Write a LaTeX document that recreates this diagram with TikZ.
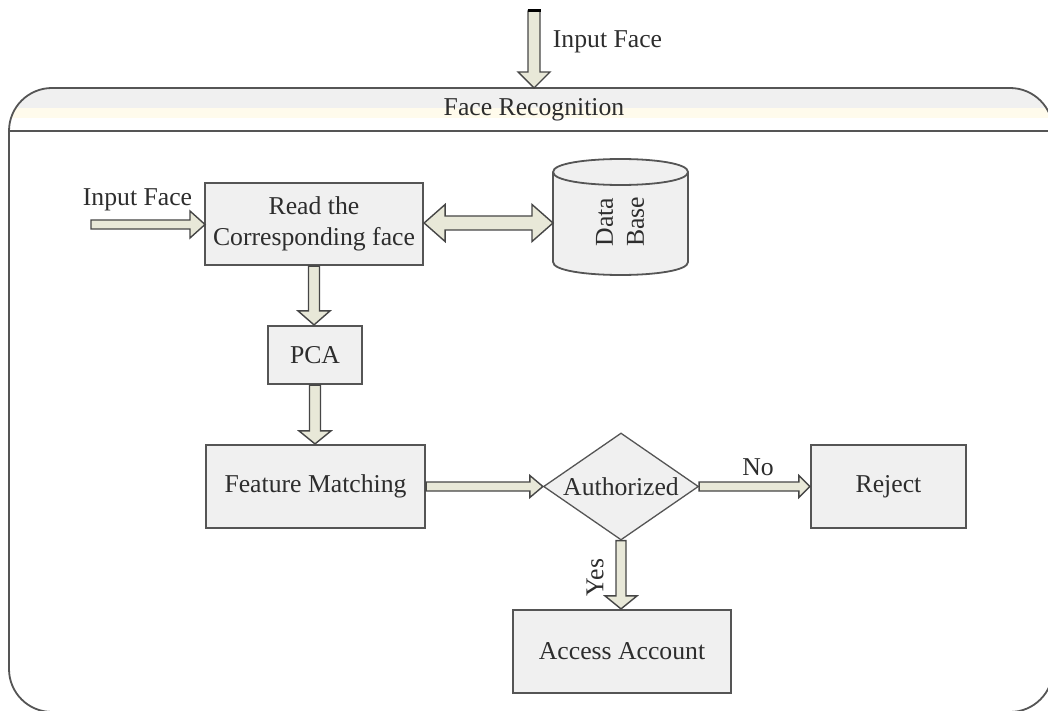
\documentclass[tikz,border=0pt]{standalone}
\usepackage{fontspec}
\setmainfont{Liberation Serif}
\usetikzlibrary{shapes.geometric,calc}
\definecolor{boxfill}{RGB}{240,240,240}
\definecolor{arrfill}{RGB}{232,232,216}
\definecolor{edge}{RGB}{85,85,85}
\definecolor{arredge}{RGB}{70,70,70}
\definecolor{txt}{RGB}{45,45,45}
\definecolor{cream}{RGB}{255,251,236}
\newcommand{\diafont}{\fontsize{25.7}{31}\selectfont}
% vertical block arrow: from, to, shaft half width, head half width, head length
\newcommand{\blkdown}[5]{%
  \draw[blockarrow] let \p1=(#1), \p2=(#2) in
  (\x1-#3pt,\y1) -- (\x1-#3pt,\y2+#5pt) -- (\x1-#4pt,\y2+#5pt) -- (\x1,\y2)
  -- (\x1+#4pt,\y2+#5pt) -- (\x1+#3pt,\y2+#5pt) -- (\x1+#3pt,\y1) -- cycle;}
% horizontal block arrow
\newcommand{\blkright}[5]{%
  \draw[blockarrow] let \p1=(#1), \p2=(#2) in
  (\x1,\y1-#3pt) -- (\x2-#5pt,\y1-#3pt) -- (\x2-#5pt,\y1-#4pt) -- (\x2,\y1)
  -- (\x2-#5pt,\y1+#4pt) -- (\x2-#5pt,\y1+#3pt) -- (\x1,\y1+#3pt) -- cycle;}
\tikzset{
  box/.style={draw=edge, line width=2.2pt, fill=boxfill, text=txt, inner sep=0pt, align=center, font=\diafont},
  lbl/.style={text=txt, inner sep=0pt, align=center, font=\diafont},
  blockarrow/.style={draw=arredge, line width=1.4pt, fill=arrfill, line join=miter},
  framesty/.style={draw=edge, line width=1.8pt},
}
\begin{document}
\begin{tikzpicture}[x=1pt,y=-1pt]
\useasboundingbox (0,0) rectangle (1048,711);
% outer frame
\def\framepath{(500,88) -- (1053,88) -- (1053,712) -- (9,712) -- (9,88) -- (500,88)}
\fill[white, rounded corners=43pt] \framepath;
\begin{scope}
  \clip[rounded corners=43pt] \framepath;
  \fill[boxfill] (0,80) rectangle (1060,108);
  \fill[cream] (0,108) rectangle (1060,118);
\end{scope}
\draw[framesty, rounded corners=43pt] \framepath;
\draw[framesty] (9,131) -- (1053,131);
\node[lbl] (title) at (534,110) {Face Recognition};

% nodes
\node[box, minimum width=218pt, minimum height=82pt] (read) at (314,224) {Read the\\Corresponding face};
\node[box, minimum width=94pt, minimum height=58pt] (pca) at (315,355) {PCA};
\node[box, minimum width=219pt, minimum height=83pt] (fm) at (315.5,486.5) {Feature Matching};
\node[diamond, draw=edge, line width=1.3pt, fill=boxfill, text=txt, inner sep=0pt, font=\diafont,
      aspect=1.45, minimum width=155pt, minimum height=107pt] (auth) at (621,486.5) {Authorized};
\node[box, minimum width=155pt, minimum height=83pt] (rej) at (888.5,486.5) {Reject};
\node[box, minimum width=218pt, minimum height=83pt] (acc) at (622,651.5) {Access Account};

% database cylinder
\filldraw[draw=edge, line width=1.8pt, fill=boxfill] (553,172) -- (553,262)
  .. controls (553,279.33) and (688,279.33) .. (688,262) -- (688,172)
  .. controls (688,154.67) and (553,154.67) .. (553,172) -- cycle;
\draw[draw=edge, line width=1.8pt] (553,172) .. controls (553,189.33) and (688,189.33) .. (688,172);
\node[lbl, rotate=90] (db) at (620,222) {Data\\Base};
\coordinate (dbw) at (553,223);

% free ends
\coordinate (intop) at (534,11);
\coordinate (ftop) at (534,88);
\coordinate (inleft) at (91,224.5);
\coordinate (readw) at (205,224.5);

% connectors
\blkdown{intop}{ftop}{6}{16}{16}
\draw[line width=3pt, black] ($(intop)+(-6.5,0)$) -- ($(intop)+(6.5,0)$);
\blkright{inleft}{readw}{4.5}{13.5}{15}
\draw[blockarrow] let \p1=(read.east), \p2=(dbw) in
  (\x1,\y2) -- (\x1+21pt,\y2+18.5pt) -- (\x1+21pt,\y2+7pt) -- (\x2-21pt,\y2+7pt)
  -- (\x2-21pt,\y2+18.5pt) -- (\x2,\y2) -- (\x2-21pt,\y2-18.5pt) -- (\x2-21pt,\y2-7pt)
  -- (\x1+21pt,\y2-7pt) -- (\x1+21pt,\y2-18.5pt) -- cycle;
\blkdown{read.south}{pca.north}{5.5}{16}{14}
\blkdown{pca.south}{fm.north}{5.5}{16}{13}
\blkright{fm.east}{auth.west}{4.5}{11}{13}
\blkright{auth.east}{rej.west}{4.5}{11}{11}
\blkdown{auth.south}{acc.north}{5}{16}{13}

% labels
\node[lbl] (lin1) at (607.5,42) {Input Face};
\node[lbl] (lin2) at (137.5,200) {Input Face};
\node[lbl] (no) at (758,467) {No};
\node[lbl, rotate=90] (yes) at (595,577.5) {Yes};
\end{tikzpicture}
\end{document}
